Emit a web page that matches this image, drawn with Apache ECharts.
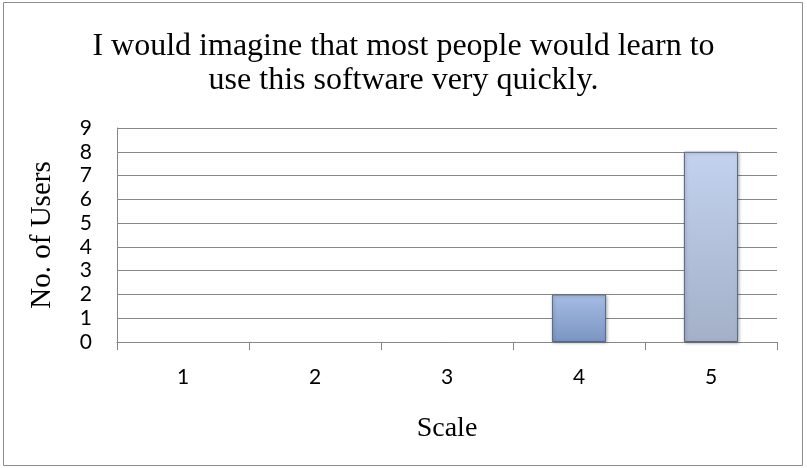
<!DOCTYPE html>
<html><head><meta charset="utf-8">
<script src="https://cdn.jsdelivr.net/npm/echarts@6/dist/echarts.min.js"></script>
<style>html,body{margin:0;padding:0;background:#fff}#c{width:807px;height:468px}</style>
</head><body><div id="c"></div>
<script>
const categories = ['1', '2', '3', '4', '5'];
const users = [0, 0, 0, 2, 8];
const yTicks = [0, 1, 2, 3, 4, 5, 6, 7, 8, 9];
const titleText = 'I would imagine that most people would learn to\nuse this software very quickly.';

const barColors = [
  ['#a9c0e6', '#7c97c4'],
  ['#a9c0e6', '#7c97c4'],
  ['#a9c0e6', '#7c97c4'],
  ['#a6bde4', '#7a95c2'],
  ['#c3d2ee', '#a3b0c8']
];

const chart = echarts.init(document.getElementById('c'), null, {renderer: 'canvas'});
chart.setOption({
  animation: false,
  backgroundColor: '#fff',
  graphic: [{
    type: 'rect', shape: {x: 3.5, y: 2.5, width: 799, height: 463},
    style: {fill: 'none', stroke: '#8c8c8c', lineWidth: 1}, silent: true
  }],
  title: {
    text: titleText, left: 'center', top: 25,
    textStyle: {fontFamily: 'Liberation Serif', fontSize: 32, fontWeight: 'normal', color: '#000', lineHeight: 34}
  },
  grid: {left: 117, right: 30, top: 128, bottom: 126},
  xAxis: {
    type: 'category', data: categories,
    name: 'Scale', nameLocation: 'middle', nameGap: 73,
    nameTextStyle: {fontFamily: 'Liberation Serif', fontSize: 28, color: '#000'},
    axisLine: {lineStyle: {color: '#878787', width: 1}},
    axisTick: {show: true, length: 8, lineStyle: {color: '#878787'}},
    axisLabel: {fontFamily: 'Lato', fontSize: 21, color: '#000', margin: 25}
  },
  yAxis: {
    type: 'value', min: 0, max: yTicks[yTicks.length - 1], interval: 1,
    name: 'No. of Users', nameLocation: 'middle', nameGap: 60, nameRotate: 90,
    nameTextStyle: {fontFamily: 'Liberation Serif', fontSize: 29, color: '#000'},
    axisLine: {show: true, lineStyle: {color: '#878787', width: 1}},
    axisTick: {show: false},
    axisLabel: {fontFamily: 'Lato', fontSize: 21, color: '#000', margin: 25},
    splitLine: {lineStyle: {color: '#878787', width: 1}}
  },
  series: [{
    type: 'bar', barWidth: '41%',
    data: users.map((v, i) => ({
      value: v,
      itemStyle: {
        color: new echarts.graphic.LinearGradient(0, 0, 0, 1, [
          {offset: 0, color: barColors[i][0]},
          {offset: 1, color: barColors[i][1]}
        ]),
        borderColor: '#5a6885', borderWidth: v > 0 ? 1 : 0,
        shadowColor: v > 0 ? 'rgba(0,0,0,0.25)' : 'rgba(0,0,0,0)',
        shadowBlur: 3, shadowOffsetX: 1, shadowOffsetY: 1
      }
    }))
  }]
});
</script></body></html>
